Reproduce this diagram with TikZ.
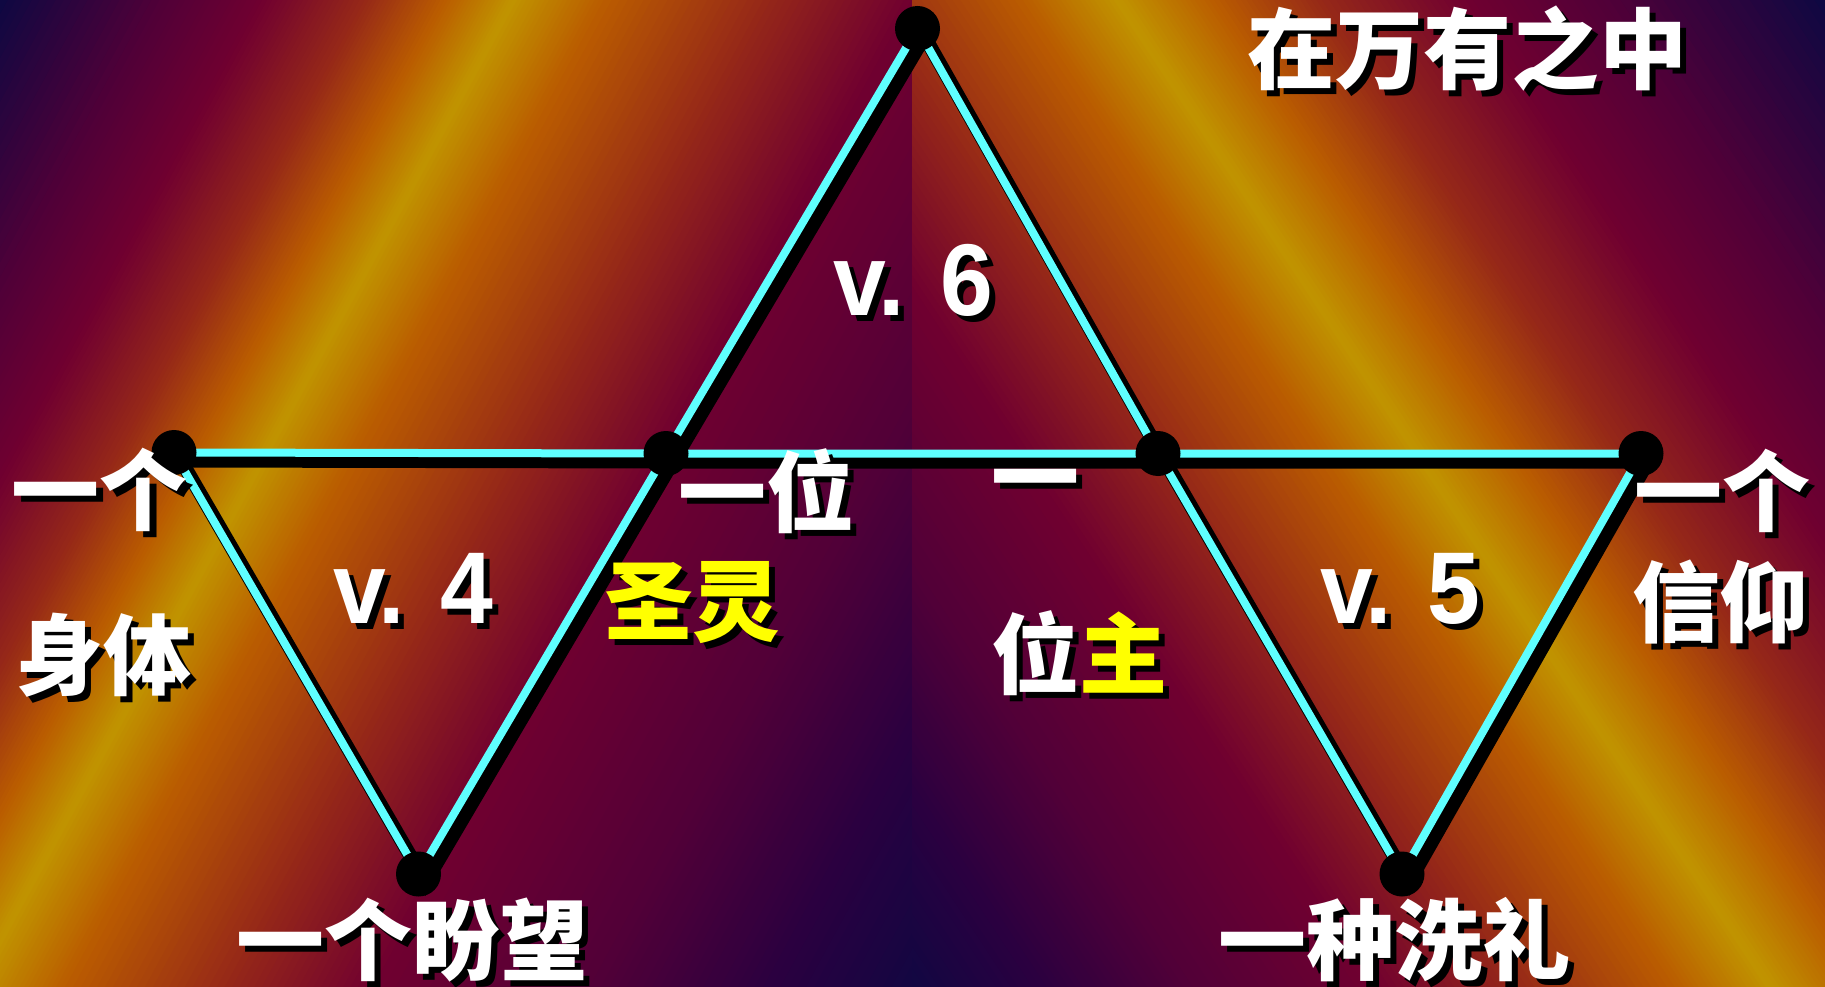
\documentclass[tikz,border=0pt]{standalone}
\usepackage{fontspec}
\setmainfont{Liberation Sans}
\newfontfamily\vfont{Liberation Sans}[FakeStretch=0.93]
\newfontfamily\cjk{Noto Sans CJK SC}
\definecolor{bgA}{RGB}{14,8,66}
\definecolor{bgB}{RGB}{42,0,64}
\definecolor{bgC}{RGB}{80,0,56}
\definecolor{bgD}{RGB}{112,0,48}
\definecolor{bgE}{RGB}{150,40,24}
\definecolor{bgF}{RGB}{186,92,0}
\definecolor{bgG}{RGB}{192,148,0}
\definecolor{lineC}{RGB}{95,255,255}
\definecolor{labY}{RGB}{255,255,0}
\newcommand\yelcol{labY}
\newcommand\yel[1]{\textcolor{\yelcol}{#1}}
\newcommand\bgseg[4]{%
  \foreach \k in {0,...,19}{%
    \pgfmathsetmacro\pa{#1+(#2-#1)*\k/20}%
    \pgfmathsetmacro\pb{#1+(#2-#1)*(\k+1)/20+1.5}%
    \pgfmathtruncatemacro\pc{98-5*\k}%
    \fill[#3!\pc!#4] ({\mo+\ms*(\pa*\ux+2000*\uy)},{\pa*\uy-2000*\ux}) -- ({\mo+\ms*(\pa*\ux-2000*\uy)},{\pa*\uy+2000*\ux}) -- ({\mo+\ms*(\pb*\ux-2000*\uy)},{\pb*\uy+2000*\ux}) -- ({\mo+\ms*(\pb*\ux+2000*\uy)},{\pb*\uy-2000*\ux}) -- cycle;
  }%
}
\newcommand\shlab[5]{%
  \node[#1,text=black] (#2s) at ({#3+6},{#4+6}) {\renewcommand\yelcol{black}#5};
  \node[#1] (#2) at (#3,#4) {#5};
}
\pgfdeclarelayer{bglayer}
\pgfdeclarelayer{linelayer}
\pgfsetlayers{bglayer,linelayer,main}
\begin{document}
\begin{tikzpicture}[x=1pt,y=-1pt,
  dot/.style={circle,fill=black,inner sep=0pt,minimum size=45pt},
  cyanline/.style={draw=lineC,line width=8pt},
  shadowline/.style={draw=black,line width=14pt},
  cjklab/.style={font=\cjk\bfseries\fontsize{88}{88}\selectfont,inner sep=0pt,text=white},
  vlab/.style={font=\vfont\bfseries\fontsize{102}{102}\selectfont,inner sep=0pt,text=white}]
\useasboundingbox (0,0) rectangle (1825,987);
\begin{pgfonlayer}{bglayer}
\fill[bgA] (0,0) rectangle (1825,987);
\begin{scope}
\clip (0,0) rectangle (913,987);
\def\ux{0.878}\def\uy{0.479}\def\mo{0}\def\ms{1}
\bgseg{0}{140}{bgA}{bgC}
\bgseg{140}{230}{bgC}{bgD}
\bgseg{230}{320}{bgD}{bgE}
\bgseg{320}{390}{bgE}{bgF}
\bgseg{390}{450}{bgF}{bgG}
\bgseg{450}{530}{bgG}{bgF}
\bgseg{530}{670}{bgF}{bgE}
\bgseg{670}{800}{bgE}{bgD}
\bgseg{800}{1000}{bgD}{bgC}
\bgseg{1000}{1150}{bgC}{bgB}
\bgseg{1150}{1300}{bgB}{bgA}
\end{scope}
\begin{scope}
\clip (912,0) rectangle (1825,987);
\def\ux{0.834}\def\uy{0.551}\def\mo{1825}\def\ms{(-1)}
\bgseg{0}{180}{bgA}{bgC}
\bgseg{180}{300}{bgC}{bgD}
\bgseg{300}{420}{bgD}{bgE}
\bgseg{420}{510}{bgE}{bgF}
\bgseg{510}{590}{bgF}{bgG}
\bgseg{590}{670}{bgG}{bgF}
\bgseg{670}{800}{bgF}{bgE}
\bgseg{800}{920}{bgE}{bgD}
\bgseg{920}{1080}{bgD}{bgC}
\bgseg{1080}{1200}{bgC}{bgB}
\bgseg{1200}{1320}{bgB}{bgA}
\end{scope}
\end{pgfonlayer}
% vertices (dots)
\node[dot] (T) at (917.5,28.5) {};
\node[dot] (L) at (174,452.5) {};
\node[dot] (ML) at (666,453.5) {};
\node[dot] (MR) at (1158,453.5) {};
\node[dot] (R) at (1641,453.5) {};
\node[dot] (BL) at (418.5,874) {};
\node[dot] (BR) at (1402,874) {};
\begin{pgfonlayer}{linelayer}
\begin{scope}[transform canvas={xshift=7pt,yshift=-8pt}]
\draw[shadowline] (L.center) -- (ML.center) -- (MR.center) -- (R.center);
\draw[shadowline] (L.center) -- (BL.center) -- (ML.center) -- (T.center) -- (MR.center) -- (BR.center) -- (R.center);
\end{scope}
\draw[cyanline] (L.center) -- (ML.center) -- (MR.center) -- (R.center);
\draw[cyanline] (L.center) -- (BL.center) -- (ML.center) -- (T.center) -- (MR.center) -- (BR.center) -- (R.center);
\end{pgfonlayer}
% labels
\shlab{cjklab}{top}{1467}{49}{在万有之中}
\shlab{cjklab}{la}{100}{490}{一个}
\shlab{cjklab}{lb}{103}{655}{身体}
\shlab{cjklab}{ma}{766}{491}{一位}
\shlab{cjklab}{mb}{692}{603}{\yel{圣灵}}
\shlab{cjklab}{na}{1035}{490}{一}
\shlab{cjklab}{nb}{1079}{653}{位\yel{主}}
\shlab{cjklab}{ra}{1722}{491}{一个}
\shlab{cjklab}{rb}{1720}{602}{信仰}
\shlab{cjklab}{ba}{412}{940}{一个盼望}
\shlab{cjklab}{bb}{1394}{940}{一种洗礼}
\shlab{vlab}{v6}{913}{280}{v. 6}
\shlab{vlab}{v4}{413}{588}{v. 4}
\shlab{vlab}{v5}{1400}{589}{v. 5}
\end{tikzpicture}
\end{document}
